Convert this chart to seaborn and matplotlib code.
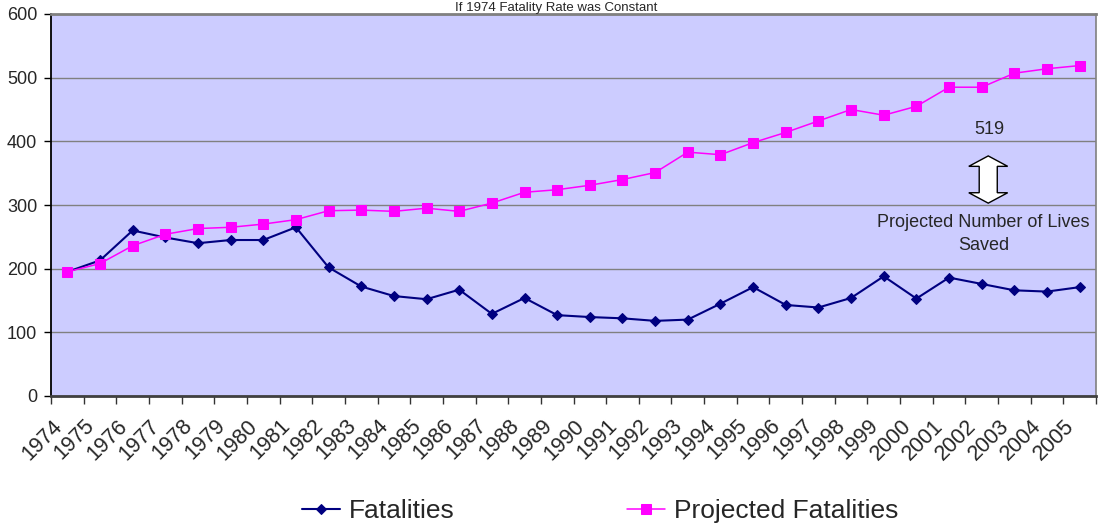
import matplotlib
matplotlib.use("Agg")
import matplotlib.pyplot as plt
import matplotlib.patches as mpatches
import matplotlib.transforms as mtransforms
import numpy as np
import pandas as pd
import seaborn as sns

# data
years = [str(y) for y in range(1974, 2006)]
fatalities = [195, 213, 260, 249, 240, 245, 245, 265, 202, 172, 157, 152, 167, 129, 154, 127,
              124, 122, 118, 120, 145, 171, 143, 139, 154, 188, 153, 186, 176, 166, 164, 171]
projected = [195, 208, 236, 254, 263, 265, 270, 277, 291, 292, 290, 295, 290, 303, 320, 324,
             331, 340, 351, 383, 379, 398, 414, 432, 450, 441, 455, 485, 485, 507, 514, 519]
y_ticks = [0, 100, 200, 300, 400, 500, 600]

sns.set_style("white")
plt.rcParams["font.family"] = ["Liberation Sans", "DejaVu Sans"]

df = pd.DataFrame({"pos": np.arange(len(years)),
                   "Fatalities": fatalities,
                   "Projected Fatalities": projected})

W, H = 1099, 529
fig = plt.figure(figsize=(W / 100, H / 100), dpi=100)
ax = fig.add_axes([51 / W, 1 - 396 / H, (1096 - 51) / W, (396 - 14) / H])
ax.set_facecolor("#CCCCFF")

sns.lineplot(data=df, x="pos", y="Fatalities", ax=ax, color="#000080", marker="D",
             markersize=5, markeredgecolor="#000080", linewidth=1.5, label="Fatalities")
sns.lineplot(data=df, x="pos", y="Projected Fatalities", ax=ax, color="#FF00FF", marker="s",
             markersize=7.5, markeredgecolor="#FF00FF", linewidth=1.1,
             label="Projected Fatalities")

ax.set_xlim(-0.5, len(years) - 0.5)
ax.set_ylim(0, 600)
ax.set_xlabel("")
ax.set_ylabel("")

# y axis
ax.set_yticks(y_ticks)
ax.set_yticklabels([str(v) for v in y_ticks], fontsize=13)
ax.tick_params(axis="y", direction="out", length=5, width=1, color="black", pad=5, left=True)
ax.yaxis.grid(True, color="#808080", linewidth=1)
ax.set_axisbelow(True)

# x axis: labels at category centres, tick marks at category boundaries
ax.set_xticks(np.arange(len(years)))
ax.set_xticklabels(years, fontsize=15.5, rotation=45, ha="right", va="top",
                   rotation_mode="anchor")
ax.set_xticks(np.arange(len(years) + 1) - 0.5, minor=True)
ax.tick_params(axis="x", which="major", length=0, pad=14)
ax.tick_params(axis="x", which="minor", direction="out", length=5.5, width=1,
               color="#333333", bottom=True)
shift = mtransforms.ScaledTranslation(-16 / 100, 0, fig.dpi_scale_trans)
for lab in ax.get_xticklabels():
    lab.set_transform(lab.get_transform() + shift)

ax.spines["left"].set_color("black")
ax.spines["left"].set_linewidth(1.3)
ax.spines["bottom"].set_color("#404040")
ax.spines["bottom"].set_linewidth(2)
ax.spines["top"].set_color("#808080")
ax.spines["top"].set_linewidth(2)
ax.spines["right"].set_color("#808080")
ax.spines["right"].set_linewidth(1.2)

# annotation: lives saved
ax.text(28.25, 419, "519", ha="center", va="center", fontsize=13)
ax.text(28.05, 255, "Projected Number of Lives\nSaved", ha="center", va="center",
        fontsize=13, linespacing=1.45)
arrow_pts = [(0, 17), (14, 9.5), (6.5, 9.5), (6.5, -9.5), (14, -9.5), (0, -17),
             (-14, -9.5), (-6.5, -9.5), (-6.5, 9.5), (-14, 9.5)]
arrow_tr = (mtransforms.Affine2D().scale(1 / 72) + fig.dpi_scale_trans
            + mtransforms.ScaledTranslation(28.2, 340, ax.transData))
ax.add_patch(mpatches.Polygon(arrow_pts, closed=True, facecolor="white",
                              edgecolor="black", linewidth=1, transform=arrow_tr))

# title, squeezed into the thin top margin
fig.text(0.506, 1 - 10.5 / H, "If 1974 Fatality Rate was Constant", ha="center",
         va="baseline", fontsize=9.5)

handles, labels = ax.get_legend_handles_labels()
ax.get_legend().remove()
fig.legend(handles, labels, loc="center", bbox_to_anchor=(0.546, 1 - 511 / H), ncol=2,
           frameon=False, fontsize=19, handlelength=1.45, handletextpad=0.35,
           columnspacing=6.5)

fig.savefig("out.png", dpi=100)
